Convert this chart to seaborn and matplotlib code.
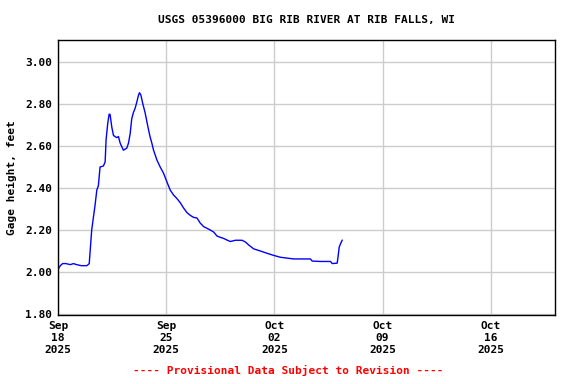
import numpy as np
import pandas as pd
import matplotlib
matplotlib.use("Agg")
import matplotlib.pyplot as plt
import seaborn as sns

# Gage height readings (days after Sep 18 2025 00:00)
days = [0.0, 0.06, 0.15, 0.3, 0.5, 0.8, 1.0, 1.2, 1.5, 1.86, 1.95, 2.02,
        2.07, 2.18, 2.29, 2.40, 2.51, 2.61, 2.72, 2.94, 3.05, 3.11, 3.22,
        3.31, 3.37, 3.48, 3.59, 3.80, 3.91, 4.02, 4.23, 4.45, 4.56, 4.67,
        4.77, 4.88, 4.99, 5.10, 5.21, 5.27, 5.36, 5.49, 5.64, 5.75, 5.86,
        5.96, 6.07, 6.18, 6.40, 6.61, 6.83, 7.04, 7.26, 7.47, 7.69, 7.91,
        8.12, 8.34, 8.55, 8.77, 8.99, 9.20, 9.42, 9.64, 9.85, 10.07, 10.29,
        10.50, 10.71, 10.93, 11.15, 11.47, 11.90, 12.12, 12.33, 12.66, 13.09,
        13.52, 13.95, 14.39, 15.25, 16.33, 16.44, 16.98, 17.63, 17.74, 18.06,
        18.13, 18.19, 18.28, 18.39]
gage_ft = [2.01, 2.02, 2.03, 2.04, 2.04, 2.035, 2.04, 2.035, 2.03, 2.03, 2.035, 2.04,
           2.09, 2.20, 2.26, 2.32, 2.39, 2.41, 2.50, 2.505, 2.525, 2.63, 2.71,
           2.752, 2.75, 2.69, 2.65, 2.64, 2.645, 2.614, 2.58, 2.59, 2.614, 2.66,
           2.73, 2.76, 2.78, 2.81, 2.843, 2.854, 2.843, 2.80, 2.757, 2.716, 2.676,
           2.643, 2.614, 2.58, 2.533, 2.50, 2.47, 2.43, 2.39, 2.367, 2.35, 2.33,
           2.305, 2.283, 2.27, 2.26, 2.257, 2.233, 2.216, 2.208, 2.20, 2.19, 2.171,
           2.165, 2.16, 2.152, 2.145, 2.151, 2.151, 2.143, 2.129, 2.11, 2.10,
           2.089, 2.079, 2.07, 2.062, 2.062, 2.052, 2.05, 2.05, 2.04, 2.042,
           2.08, 2.118, 2.135, 2.152]

tick_dates = ["2025-09-18", "2025-09-25", "2025-10-02", "2025-10-09", "2025-10-16"]
y_ticks = [1.80, 2.00, 2.20, 2.40, 2.60, 2.80, 3.00]

start = pd.Timestamp("2025-09-18")
df = pd.DataFrame({
    "time": start + pd.to_timedelta(days, unit="D"),
    "gage": gage_ft,
})

sns.set_style("white", {"text.color": "black", "axes.labelcolor": "black",
                        "xtick.color": "black", "ytick.color": "black"})
plt.rcParams["font.family"] = ["DejaVu Sans Mono"]
plt.rcParams["font.weight"] = "bold"

fig = plt.figure(figsize=(5.76, 3.84), dpi=100)
ax = fig.add_axes([0.1007, 0.1797, 0.8628, 0.7161])

sns.lineplot(data=df, x="time", y="gage", ax=ax, color="#0000ff", linewidth=1.0)

ax.set_xlim(start, start + pd.Timedelta(days=32.15))
ax.set_ylim(1.795, 3.105)
ax.set_yticks(y_ticks)
ax.set_yticklabels([f"{v:.2f}" for v in y_ticks], fontsize=8, fontweight="bold")
xt = pd.to_datetime(tick_dates)
ax.set_xticks(xt)
ax.set_xticklabels([d.strftime("%b\n%d\n%Y") for d in xt], fontsize=8,
                   fontweight="bold", linespacing=1.25)
ax.tick_params(axis="both", length=0, pad=4, colors="black")
ax.grid(True, color="#cccccc", linewidth=1.0)
for s in ax.spines.values():
    s.set_color("black")
    s.set_linewidth(1.0)

ax.set_xlabel("")
ax.set_ylabel("Gage height, feet", fontsize=8, fontweight="bold", labelpad=6,
              color="black")
ax.set_title("USGS 05396000 BIG RIB RIVER AT RIB FALLS, WI", fontsize=8,
             fontweight="bold", pad=12, color="black")
fig.text(0.5, 0.022, "---- Provisional Data Subject to Revision ----",
         color="red", ha="center", va="bottom", fontsize=8, fontweight="bold")

fig.savefig("out.png", dpi=100)
